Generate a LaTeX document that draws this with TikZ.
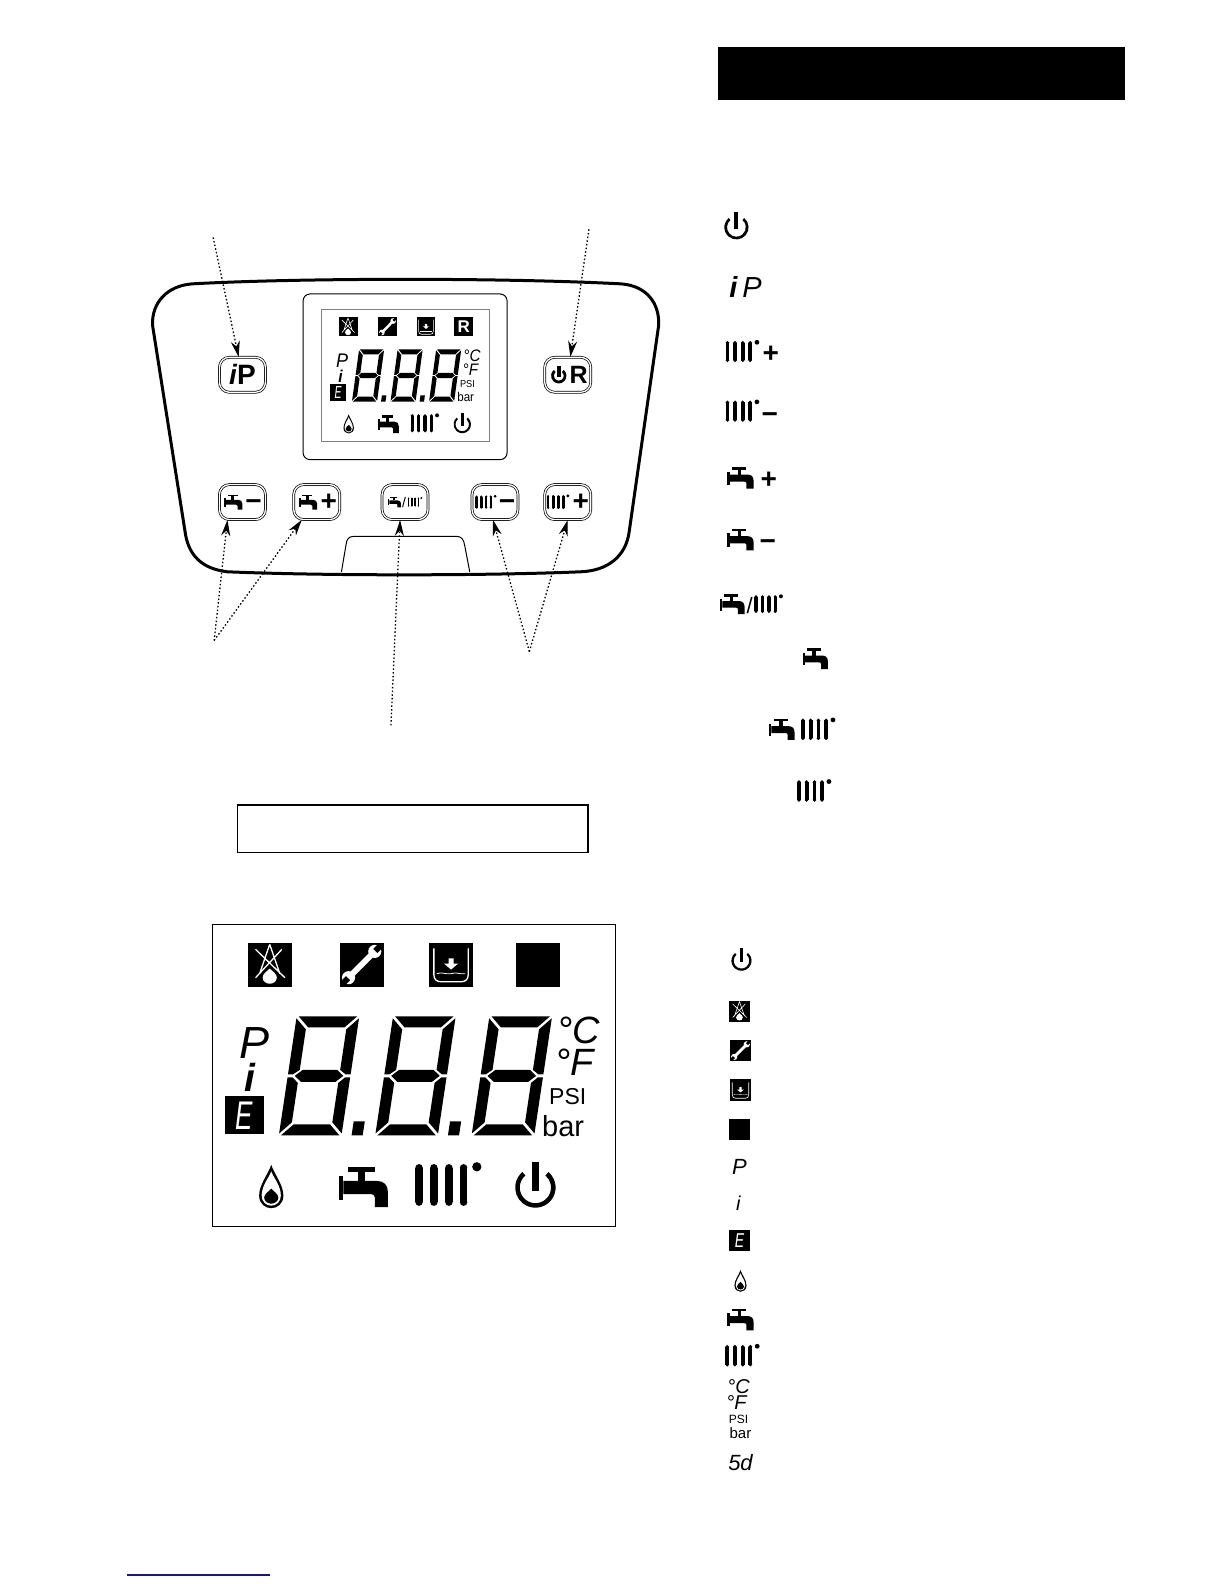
\documentclass[tikz,border=0pt]{standalone}
\usepackage{fontspec}
\setmainfont{Liberation Sans}
\usetikzlibrary{arrows.meta}
\newcommand{\lcdsize}[1]{\fontsize{#1}{#1}\selectfont}
\definecolor{linkblue}{RGB}{20,20,140}
\tikzset{
  lcdtext/.style={inner sep=0pt,transform shape},
  keybox/.style={draw,double,double distance=1.3pt,line width=.7pt,rounded corners=10pt,minimum width=46pt,minimum height=35pt},
  keytext/.style={inner sep=0pt,font=\bfseries\lcdsize{28}},
  listtext/.style={inner sep=0pt},
  callout/.style={line width=1.3pt,dash pattern=on 1.5pt off 2.2pt,-{Stealth[length=16pt,width=9pt]}},
  tap/.pic={
    \fill (-15.8,-19.8) rectangle (11,-15);
    \fill (-5.3,-15) rectangle (1.3,-6);
    \fill (-24,-11) rectangle (-20,13);
    \fill (-20,-6)--(13,-6) .. controls (20,-6) and (24,-2) .. (24,5)--(24,20)--(11,20)--(11,10) .. controls (11,8) and (9,7) .. (7,7)--(-20,7)--cycle;
  },
  radiator/.pic={
    \foreach \barx in {-29.2,-14.5,.4,14.9}{
      \fill (\barx-3.7,-17) rectangle (\barx+3.7,17);
      \fill (\barx,-17) circle[radius=3.7];
      \fill (\barx,17) circle[radius=3.7];
    }
    \fill (28,-18) circle[radius=4.6];
  },
  powersym/.pic={
    \fill (-50:20) arc[start angle=-50,end angle=230,radius=20]--(230:#1) arc[start angle=230,end angle=-50,radius=#1]--cycle;
    \fill ({-(20-#1)*.75},-25.7) rectangle ({(20-#1)*.75},3.5);
  },
  flame/.pic={
    \fill (0,-21.5) .. controls (3,-12) and (12,-2) .. (12,9) .. controls (12,17) and (6,21.5) .. (0,21.5) .. controls (-6,21.5) and (-12,17) .. (-12,9) .. controls (-12,-2) and (-3,-12) .. cycle;
    \fill[white] (0,-15) .. controls (2,-9) and (9.5,-1) .. (9.5,9) .. controls (9.5,15) and (5,19) .. (0,19) .. controls (-5,19) and (-9.5,15) .. (-9.5,9) .. controls (-9.5,-1) and (-2,-9) .. cycle;
    \fill (0,2) .. controls (2,5) and (7,7) .. (7,11) .. controls (7,15) and (3,17) .. (0,17) .. controls (-3,17) and (-7,15) .. (-7,11) .. controls (-7,7) and (-2,5) .. cycle;
  },
  blanklamp/.pic={\fill (-21.8,-21.8) rectangle (21.8,21.8);},
  noflame/.pic={
    \fill (-21.8,-21.8) rectangle (21.8,21.8);
    \draw[white,line width=#1] (-14,-15)--(15,13) (12,-15)--(-14,13) (0,-20)--(-10,9) (0,-20)--(10,9);
    \fill[white] (0,4) .. controls (3,7) and (7,9) .. (7,13) .. controls (7,17) and (3,19) .. (0,19) .. controls (-3,19) and (-7,17) .. (-7,13) .. controls (-7,9) and (-3,7) .. cycle;
  },
  wrench/.pic={
    \fill (-21.8,-21.8) rectangle (21.8,21.8);
    \fill[white] (-13,9)--(-9,13)--(13,-9)--(9,-13)--cycle;
    \fill[white] (13,-13) circle[radius=6.5];
    \fill[white] (-13,13) circle[radius=6.5];
    \fill (11.5,-15.5)--(15.5,-11.5)--(21,-17)--(17,-21)--cycle;
    \fill (-11.5,15.5)--(-15.5,11.5)--(-21,17)--(-17,21)--cycle;
  },
  drain/.pic={
    \fill (-21.8,-21.8) rectangle (21.8,21.8);
    \draw[white,line width=#1] (-17,-16)--(-17,10) .. controls (-17,15) and (-14,17) .. (-10,17)--(10,17) .. controls (14,17) and (17,15) .. (17,10)--(17,-16);
    \fill[white] (-2.5,-6)--(2.5,-6)--(2.5,-1)--(7,-1)--(0,5)--(-7,-1)--(-2.5,-1)--cycle;
    \draw[white,line width=.6*#1] (-14,9) .. controls (-8,7) and (-6,10) .. (0,9) .. controls (6,7) and (8,10) .. (14,9);
  },
  lcddigit/.pic={
    \fill (2,-118)--(60,-118)--(49,-107)--(13,-107)--cycle;
    \fill (0,-116)--(11,-105)--(11,-65)--(5,-60.5)--(0,-60.5)--cycle;
    \fill (62,-116)--(51,-105)--(51,-65)--(57,-60.5)--(62,-60.5)--cycle;
    \fill (7,-59)--(14,-65)--(48,-65)--(55,-59)--(48,-53)--(14,-53)--cycle;
    \fill (0,-2)--(11,-13)--(11,-52)--(5,-57.5)--(0,-57.5)--cycle;
    \fill (62,-2)--(51,-13)--(51,-52)--(57,-57.5)--(62,-57.5)--cycle;
    \fill (2,0)--(60,0)--(49,-11)--(13,-11)--cycle;
  },
  lcdicons/.pic={
    \pic[transform shape] at (57,39.8) {noflame=#1};
    \pic[transform shape] at (148,39.8) {wrench};
    \pic[transform shape] at (236.5,39.8) {drain=#1};
    \pic[transform shape] at (322.9,39.8) {blanklamp};
    \pic[transform shape] at (58.5,259.5) {flame};
    \pic[transform shape] at (150,260) {tap};
    \pic[transform shape] at (234,258) {radiator};
    \pic[transform shape] at (320,260.5) {powersym=15.5};
  },
  lcdscreen/.pic={
    \foreach \digitx in {66,161.4,256.8}
      \pic[transform shape,xslant=.15] at (\digitx,209) {lcddigit};
    \foreach \dotx in {138,233.4}
      \fill[shift={(\dotx,209)},xslant=.15] (0,0) rectangle (11,-14);
    \node[lcdtext,font=\itshape\lcdsize{45}] (lcdp) at (41.5,117) {P};
    \node[lcdtext,font=\bfseries\itshape\lcdsize{39}] (lcdi) at (37.5,151) {i};
    \fill (12.5,170) rectangle (51,208);
    \node[lcdtext,xscale=.65,white,font=\itshape\lcdsize{40}] (lcde) at (31.7,189) {E};
    \node[lcdtext,font=\itshape\lcdsize{38}] (lcdc) at (363,105) {°C};
    \node[lcdtext,font=\itshape\lcdsize{38}] (lcdf) at (359,136) {°F};
    \node[lcdtext,font=\lcdsize{23}] (lcdpsi) at (352,170) {PSI};
    \node[lcdtext,font=\lcdsize{29}] (lcdbar) at (347.5,199.5) {bar};
  },
}
\begin{document}
\begin{tikzpicture}[x=1.0102pt,y=-1.0102pt]
  \fill[white] (0,0) rectangle (1211.6,1568);
  \useasboundingbox (0,0) rectangle (1211.6,1568);
  % header bar and link line
  \fill (711,46.5) rectangle (1114,99);
  \draw[linkblue,line width=1.5pt] (126,1559)--(267,1559);
  % control panel
  \draw[line width=3pt] (190,281) .. controls (300,275) and (500,275) .. (615,281) .. controls (640,283) and (653,300) .. (652,322)--(623,525) .. controls (620,552) and (600,565) .. (575,566) .. controls (480,570) and (320,570) .. (225,566) .. controls (200,563) and (186,550) .. (183,525)--(151,322) .. controls (150,300) and (165,283) .. (190,281)--cycle;
  \draw[line width=1pt] (338,566)--(342.4,540) .. controls (343,534) and (345,531) .. (350,531)--(452,531) .. controls (457,531) and (459,534) .. (460,540)--(465,566);
  \draw[line width=1pt,rounded corners=7pt] (300,291) rectangle (502,455);
  \draw[gray,line width=.8pt] (318,306) rectangle (484,437);
  \pic[xscale=.43,yscale=.438] at (320,306) {lcdicons=.6pt};
  \pic[xscale=.4,yscale=.438] at (322,306) {lcdscreen=.6pt};
  \node[inner sep=0pt,white,font=\bfseries\lcdsize{17}] (lcdr) at (459,323.5) {R};
  % keys
  \node[keybox] (keyip) at (240,371) {};
  \node[keybox] (keyor) at (562,371) {};
  \node[keybox] (keytapminus) at (240,497) {};
  \node[keybox] (keytapplus) at (313.5,497) {};
  \node[keybox] (keymode) at (401,497) {};
  \node[keybox] (keyradminus) at (490,497) {};
  \node[keybox] (keyradplus) at (562,497) {};
  \node[keytext] (ipname) at (keyip) {\itshape i\upshape P};
  \pic[scale=.38] at ([xshift=-9pt,yshift=-1pt]keyor.center) {powersym=13};
  \node[keytext,font=\bfseries\lcdsize{25}] (orname) at ([xshift=11pt]keyor.center) {R};
  \pic[scale=.37] at ([xshift=-9pt]keytapminus.center) {tap};
  \node[keytext] (tapminus) at ([xshift=11pt,yshift=-3pt]keytapminus.center) {−};
  \pic[scale=.37] at ([xshift=-8.5pt]keytapplus.center) {tap};
  \node[keytext] (tapplus) at ([xshift=12pt]keytapplus.center) {+};
  \pic[scale=.26] at ([xshift=-10.5pt]keymode.center) {tap};
  \node[keytext,font=\lcdsize{14}] (modeslash) at ([xshift=-1pt]keymode.center) {/};
  \pic[scale=.22] at ([xshift=10pt]keymode.center) {radiator};
  \pic[scale=.32] at ([xshift=-9pt]keyradminus.center) {radiator};
  \node[keytext] (radminus) at ([xshift=12pt,yshift=-3pt]keyradminus.center) {−};
  \pic[scale=.34] at ([xshift=-9.5pt]keyradplus.center) {radiator};
  \node[keytext] (radplus) at ([xshift=13pt]keyradplus.center) {+};
  % callouts
  \coordinate (ipfoot) at (211,235);
  \coordinate (orfoot) at (583,227);
  \coordinate (tapfoot) at (212,634);
  \coordinate (modefoot) at (387,718);
  \coordinate (radfoot) at (524,645);
  \draw[callout] (ipfoot)--(keyip);
  \draw[callout] (orfoot)--(keyor);
  \draw[callout] (tapfoot)--([xshift=-15pt]keytapminus.south);
  \draw[callout] (tapfoot)--([xshift=-15pt]keytapplus.south);
  \draw[callout] (modefoot)--([xshift=-5pt]keymode.south);
  \draw[callout] (radfoot)--([xshift=-2pt]keyradminus.south);
  \draw[callout] (radfoot)--(keyradplus.south);
  % empty caption box and large display
  \draw[line width=1.5pt] (235,797) rectangle (582,844);
  \draw[line width=1pt] (210,915) rectangle (609,1214);
  \pic at (210,915) {lcdicons=1.3pt};
  \pic at (210,915) {lcdscreen=1.3pt};
  % key list
  \pic[scale=.6] at (729,225) {powersym=15.5};
  \node[listtext,font=\lcdsize{29}] (listip) at (738,284) {{\bfseries\itshape i}\,{\itshape P}};
  \pic[scale=.51] at (735,348) {radiator};
  \node[listtext,font=\bfseries\lcdsize{28}] (listradplus) at (763,351) {+};
  \pic[scale=.51] at (735,407) {radiator};
  \node[listtext,font=\bfseries\lcdsize{28}] (listradminus) at (762,414) {−};
  \pic[scale=.54] at (733,473) {tap};
  \node[listtext,font=\bfseries\lcdsize{28}] (listtapplus) at (761,475) {+};
  \pic[scale=.54] at (733,534) {tap};
  \node[listtext,font=\bfseries\lcdsize{28}] (listtapminus) at (760,540) {−};
  \pic[scale=.5] at (725,598) {tap};
  \node[listtext,font=\lcdsize{22}] (listslash) at (742,600) {/};
  \pic[scale=.43] at (761,598) {radiator};
  \pic[scale=.52] at (807,652) {tap};
  \pic[scale=.52] at (774,722) {tap};
  \pic[scale=.52] at (810,722) {radiator};
  \pic[scale=.52] at (806,783) {radiator};
  % symbol list
  \pic[scale=.5] at (734,951) {powersym=15.5};
  \pic[scale=.48] at (732,1001) {noflame=.6pt};
  \pic[scale=.48] at (733,1040) {wrench};
  \pic[scale=.48] at (733,1079) {drain=.6pt};
  \pic[scale=.48] at (732,1118) {blanklamp};
  \node[listtext,font=\itshape\lcdsize{22}] (listp) at (732,1155) {P};
  \node[listtext,font=\itshape\lcdsize{20}] (listi) at (731,1191) {i};
  \fill (722,1218) rectangle (742,1238);
  \node[listtext,xscale=.7,transform shape,white,font=\itshape\lcdsize{20}] (liste) at (732,1228) {E};
  \pic[scale=.5] at (733,1268) {flame};
  \pic[scale=.54] at (733,1306) {tap};
  \pic[scale=.52] at (735,1342) {radiator};
  \node[listtext,font=\itshape\lcdsize{20}] (listc) at (731,1373) {°C};
  \node[listtext,font=\itshape\lcdsize{20}] (listf) at (729,1388) {°F};
  \node[listtext,font=\lcdsize{12}] (listpsi) at (731,1405) {PSI};
  \node[listtext,font=\lcdsize{15}] (listbar) at (733,1419) {bar};
  \node[listtext,font=\itshape\lcdsize{22}] (listsd) at (733,1448) {5d};
\end{tikzpicture}
\end{document}
